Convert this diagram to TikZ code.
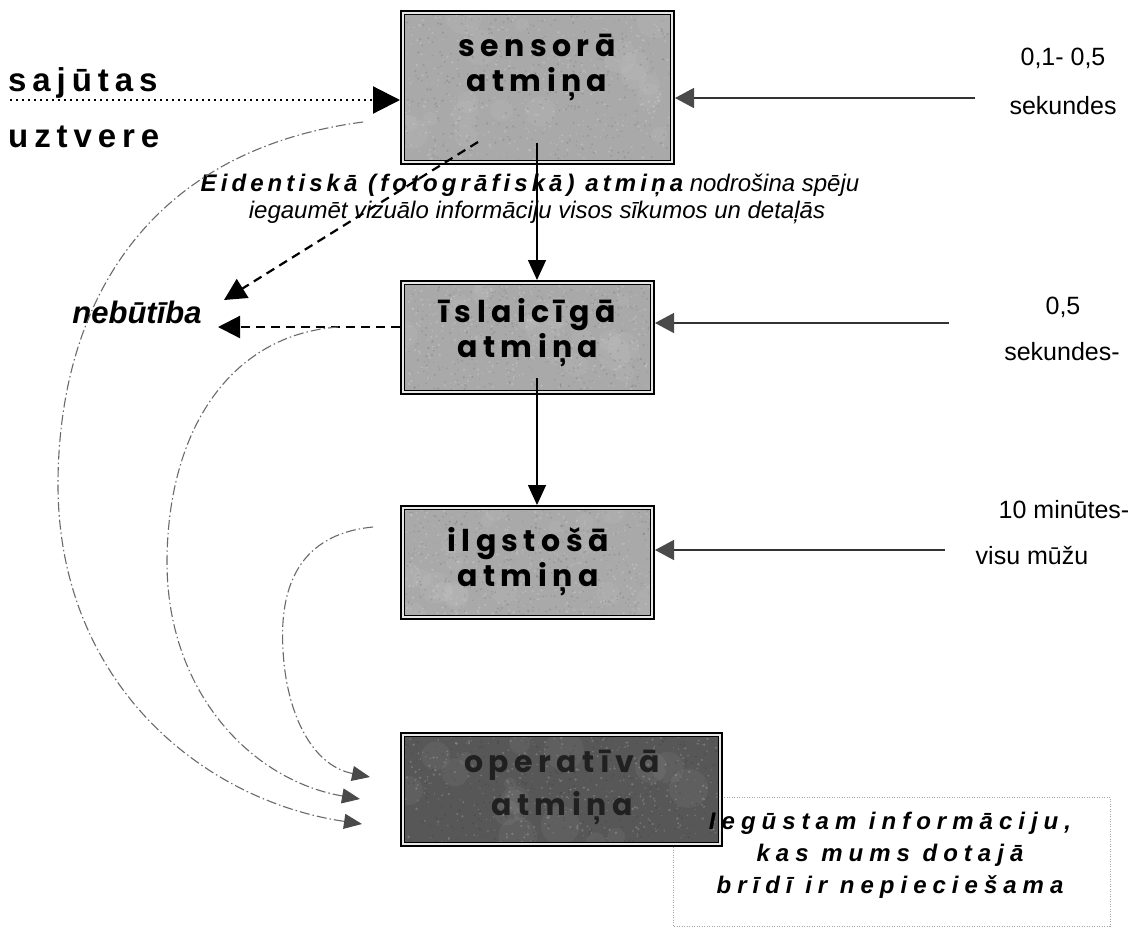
\documentclass[tikz,border=0pt]{standalone}
\usepackage{fontspec}
\setmainfont{Liberation Sans}
\newfontfamily\boxfont{Poppins}[LetterSpace=18]
\newfontfamily\widesans{Liberation Sans}[LetterSpace=18]
\newfontfamily\gainsans{Liberation Sans}[LetterSpace=25]
\newfontfamily\midsans{Liberation Sans}[LetterSpace=17]
\usetikzlibrary{arrows.meta,calc}
\definecolor{memfill}{HTML}{A9A9A9}
\definecolor{opfill}{HTML}{575757}
\definecolor{optext}{HTML}{202020}
\definecolor{tipgray}{HTML}{4A4A4A}
\definecolor{linegray}{HTML}{333333}
\definecolor{curvegray}{HTML}{6A6A6A}
\tikzset{
  membox/.style={draw=black, line width=1.6pt, double=white!82!gray,
    double distance=2.2pt, fill=memfill, inner sep=0pt, outer sep=2.7pt},
  boxlabel/.style={align=center, inner sep=0pt,
    font=\boxfont\bfseries\fontsize{30}{35}\selectfont},
  flowarrow/.style={draw=black, line width=1.4pt,
    -{Triangle[length=20pt,width=18pt]}},
  timearrow/.style={draw=linegray, line width=1.4pt,
    -{Triangle[length=19pt,width=20pt,color=tipgray]}},
  lossarrow/.style={draw=black, line width=2.2pt, dash pattern=on 9pt off 6pt,
    -{Triangle[length=22pt,width=22pt]}},
  senseline/.style={draw=black, line width=2.2pt, dash pattern=on 2pt off 4pt,
    -{Triangle[length=27pt,width=27pt]}},
  recall/.style={draw=curvegray, line width=1.1pt,
    dash pattern=on 10pt off 3pt on 1.5pt off 3pt,
    -{Triangle[length=18pt,width=15pt,color=tipgray]}},
  timelabel/.style={font=\fontsize{25}{25}\selectfont, inner sep=0pt},
  sidelabel/.style={font=\widesans\bfseries\fontsize{33}{33}\selectfont,
    anchor=base west, inner sep=0pt},
  notetext/.style={anchor=base, inner sep=0pt,
    font=\itshape\fontsize{24}{26}\selectfont},
}
% grainy paper texture inside a box: node, half width, half height
\newcommand{\grain}[3]{%
  \begin{scope}
    \clip ([shift={(5.4pt,-5.4pt)}]#1.north west) rectangle ([shift={(-5.4pt,5.4pt)}]#1.south east);
    \foreach \k in {1,...,18}{%
      \fill[white, opacity=0.05] ($(#1.center)+(rand*#2,rand*#3)$) circle[radius={(6+14*rnd)*1pt}];}
    \foreach \k in {1,...,420}{%
      \fill[white, opacity=0.18] ($(#1.center)+(rand*#2,rand*#3)$) circle[radius={(0.5+0.9*rnd)*1pt}];
      \fill[black, opacity=0.10] ($(#1.center)+(rand*#2,rand*#3)$) circle[radius={(0.5+0.8*rnd)*1pt}];}
  \end{scope}}
\begin{document}
\begin{tikzpicture}[x=1pt,y=-1pt]
\pgfmathsetseed{4711}
\fill[white] (0,0) rectangle (1145,930);
\useasboundingbox (0,0) rectangle (1145,930);

% frame round the closing remark (lies behind the last box)
\draw[gray!70, line width=0.8pt, dash pattern=on 1pt off 1.5pt]
  (673,797) rectangle (1110,926);

% memory stages
\node[membox, minimum width=269.6pt, minimum height=149.6pt] (sens) at (537.5,87.5) {};
\node[membox, minimum width=249.6pt, minimum height=109.6pt] (isl) at (527.5,337.5) {};
\node[membox, minimum width=249.6pt, minimum height=109.6pt] (ilg) at (527.5,562.5) {};
\node[membox, fill=opfill, minimum width=317.6pt, minimum height=109.6pt] (oper) at (561.5,789.5) {};
\grain{sens}{135}{75}
\grain{isl}{125}{55}
\grain{ilg}{125}{55}
\grain{oper}{159}{55}

\node[boxlabel] (sensT) at (537,67) {sensorā\\atmiņa};
\node[boxlabel] (islT) at (528,333) {īslaicīgā\\atmiņa};
\node[boxlabel] (ilgT) at (528,562) {ilgstošā\\atmiņa};
\node[boxlabel, text=optext, font=\boxfont\bfseries\fontsize{30}{43}\selectfont] (operT) at (562,787) {operatīvā\\atmiņa};

% input on the left
\node[sidelabel] (saj) at (8,91) {sajūtas};
\node[sidelabel] (uzt) at (8,147) {uztvere};
\coordinate (d0) at (10,100);
\draw[senseline] (d0) -- (d0 -| sens.west);

% durations on the right
\node[timelabel] (t1a) at (1063,58) {0,1- 0,5};
\node[timelabel] (t1b) at (1063,106) {sekundes};
\node[timelabel] (t2a) at (1063,307) {0,5};
\node[timelabel] (t2b) at (1062,352) {sekundes-};
\node[timelabel] (t3a) at (1064,510) {10 minūtes-};
\node[timelabel] (t3b) at (1032,556) {visu mūžu};
\coordinate (r1) at (975,98);
\coordinate (r2) at (949,323);
\coordinate (r3) at (945,550);
\draw[timearrow] (r1) -- (r1 -| sens.east);
\draw[timearrow] (r2) -- (r2 -| isl.east);
\draw[timearrow] (r3) -- (r3 -| ilg.east);

% transfer down the chain
\coordinate (s1) at (537,143);
\coordinate (s2) at (537,378);
\draw[flowarrow] (s1) -- (s1 |- isl.north);
\draw[flowarrow] (s2) -- (s2 |- ilg.north);

% forgetting
\node[font=\bfseries\itshape\fontsize{31}{31}\selectfont, inner sep=0pt] (neb) at (137,312) {nebūtība};
\coordinate (e1) at (478,142);
\coordinate (n1) at (224,300);
\coordinate (i2) at (400,327);
\coordinate (n2) at (218,327);
\draw[lossarrow] (e1) -- (n1);
\draw[lossarrow] (i2) -- (n2);

% eidetic memory note
\node[notetext] (eid1) at (530,191)
  {{\midsans\bfseries\itshape Eidentiskā (fotogrāfiskā) atmiņa} nodrošina spēju};
\node[notetext] (eid2) at (537,218)
  {iegaumēt vizuālo informāciju visos sīkumos un detaļās};

% retrieval into working memory
\coordinate (a0) at (363,122);
\coordinate (b0) at (338,327);
\coordinate (c0) at (373,527);
\coordinate (a1) at (362,824);
\coordinate (b1) at (360,799);
\coordinate (c1) at (370,777);
\draw[recall] (a0) .. controls (150,150) and (60,300) .. (58,480)
  .. controls (56,680) and (200,800) .. (a1);
\draw[recall] (b0) .. controls (230,335) and (168,430) .. (167,560)
  .. controls (166,690) and (250,780) .. (b1);
\draw[recall] (c0) .. controls (290,535) and (280,600) .. (283,650)
  .. controls (286,710) and (310,765) .. (c1);

% closing remark
\node[align=center, inner sep=0pt, font=\gainsans\bfseries\itshape\fontsize{24}{32}\selectfont] (gain) at (890,855)
  {Iegūstam informāciju,\\kas mums dotajā\\brīdī ir nepieciešama};
\end{tikzpicture}
\end{document}
